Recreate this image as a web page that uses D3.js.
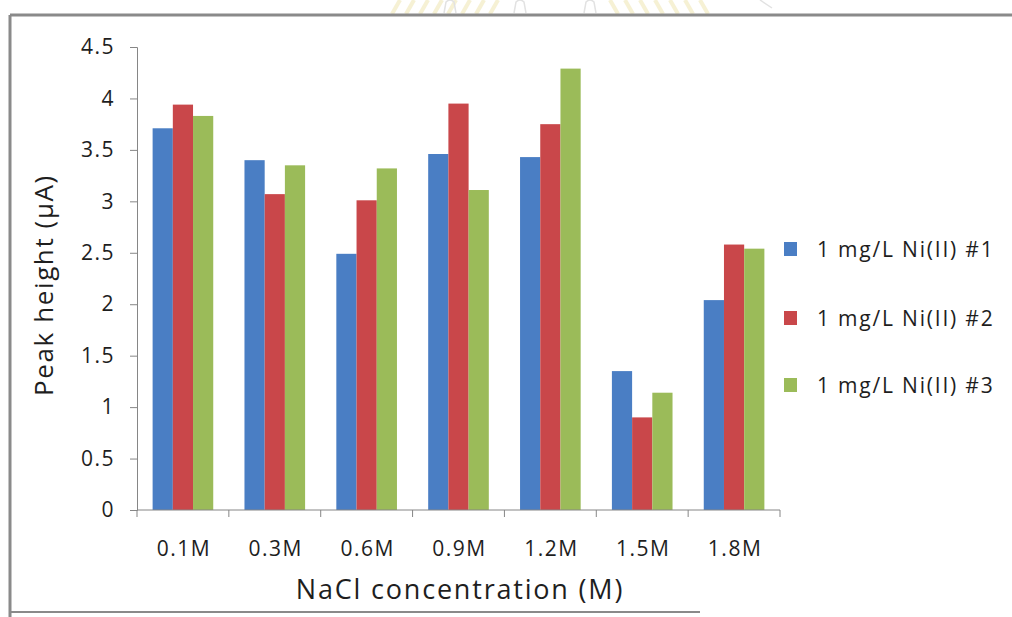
<!DOCTYPE html>
<html>
<head>
<meta charset="utf-8">
<script src="https://cdn.jsdelivr.net/npm/d3@7"></script>
<style>
  html, body { margin: 0; padding: 0; background: #fff; }
  svg { display: block; font-family: "Open Sans", "Noto Sans", sans-serif; }
</style>
</head>
<body>
<svg id="chart" width="1012" height="617"></svg>
<script>
// NaCl concentrations on the x axis
const categories = ["0.1M", "0.3M", "0.6M", "0.9M", "1.2M", "1.5M", "1.8M"];
// Peak heights (µA) for three replicate runs of 1 mg/L Ni(II)
const seriesNames = ["1 mg/L Ni(II) #1", "1 mg/L Ni(II) #2", "1 mg/L Ni(II) #3"];
const run1 = [3.71, 3.40, 2.49, 3.46, 3.43, 1.35, 2.04];
const run2 = [3.94, 3.07, 3.01, 3.95, 3.75, 0.90, 2.58];
const run3 = [3.83, 3.35, 3.32, 3.11, 4.29, 1.14, 2.54];
const yTicks = [0, 0.5, 1, 1.5, 2, 2.5, 3, 3.5, 4, 4.5];
const colors = ["#4a7ec4", "#c9474a", "#9bbb59"];

const seriesValues = [run1, run2, run3];
const svg = d3.select("#chart");
const textColor = "#1e1e1e";

// faint page emblem showing above the chart frame
const emblem = svg.append("g").attr("stroke", "#f1e8b8").attr("stroke-width", 4).attr("opacity", 0.6);
d3.range(8).forEach(i => {
  const x0 = 392 + i * 14;
  emblem.append("line").attr("x1", x0).attr("y1", 14).attr("x2", x0 + 8).attr("y2", 0);
});
d3.range(7).forEach(i => {
  const x0 = 610 + i * 15;
  emblem.append("line").attr("x1", x0).attr("y1", 0).attr("x2", x0 + 8).attr("y2", 14);
});
const emblemMarks = svg.append("g").attr("stroke", "#e2e2e2").attr("stroke-width", 1.5).attr("fill", "none");
[450, 520, 590].forEach(cx => {
  emblemMarks.append("path").attr("d", `M${cx - 6},13 L${cx - 4},2 Q${cx},-2 ${cx + 4},2 L${cx + 6},13`);
});
emblemMarks.append("line").attr("x1", 760).attr("y1", 0).attr("x2", 772).attr("y2", 8);

// frame around the chart area
const frame = svg.append("g").attr("stroke", "#8a8a8a").attr("fill", "none");
frame.append("line").attr("x1", 10).attr("x2", 1012).attr("y1", 15).attr("y2", 15).attr("stroke-width", 3);
frame.append("line").attr("x1", 10).attr("x2", 10).attr("y1", 15).attr("y2", 617).attr("stroke-width", 3);
frame.append("line").attr("x1", 10).attr("x2", 700).attr("y1", 612).attr("y2", 612).attr("stroke-width", 2);

const x = d3.scaleBand().domain(categories).range([137, 780]).paddingInner(0.34).paddingOuter(0.17);
const xInner = d3.scaleBand().domain(d3.range(3)).range([0, x.bandwidth()]);
const y = d3.scaleLinear().domain([0, 4.5]).range([510, 47]);

// bars
categories.forEach((cat, ci) => {
  seriesValues.forEach((vals, si) => {
    svg.append("rect")
      .attr("x", x(cat) + xInner(si))
      .attr("y", y(vals[ci]))
      .attr("width", xInner.bandwidth())
      .attr("height", y(0) - y(vals[ci]))
      .attr("fill", colors[si]);
  });
});

// y axis
const yAxis = svg.append("g").attr("transform", "translate(137,0)")
  .call(d3.axisLeft(y).tickValues(yTicks).tickFormat(d3.format("")).tickSizeOuter(0).tickSize(7).tickPadding(15));
yAxis.select(".domain").attr("stroke", "#868686");
yAxis.selectAll(".tick line").attr("stroke", "#868686");
yAxis.selectAll("text")
  .attr("font-size", 21).attr("letter-spacing", "1.5px")
  .attr("fill", textColor).attr("font-family", "Open Sans, sans-serif");

// x axis: ticks at category boundaries
const xAxisG = svg.append("g").attr("transform", "translate(0,510)");
xAxisG.append("line").attr("x1", 137).attr("x2", 780).attr("stroke", "#868686");
d3.range(categories.length + 1).forEach(i => {
  const xp = x.range()[0] + i * ((x.range()[1] - x.range()[0]) / categories.length);
  xAxisG.append("line").attr("x1", xp).attr("x2", xp).attr("y1", 0).attr("y2", 7).attr("stroke", "#868686");
});
categories.forEach(cat => {
  xAxisG.append("text")
    .attr("x", x(cat) + x.bandwidth() / 2 + 1)
    .attr("y", 46)
    .attr("text-anchor", "middle")
    .attr("font-size", 21)
    .attr("letter-spacing", "1.5px")
    .attr("fill", textColor)
    .text(cat);
});

// axis titles
svg.append("text")
  .attr("transform", "translate(53,285) rotate(-90)")
  .attr("text-anchor", "middle")
  .attr("font-size", 26)
  .attr("letter-spacing", "1.6px")
  .attr("fill", textColor)
  .text("Peak height (µA)");
svg.append("text")
  .attr("x", 460).attr("y", 599)
  .attr("text-anchor", "middle")
  .attr("font-size", 27)
  .attr("letter-spacing", "1.8px")
  .attr("fill", textColor)
  .text("NaCl concentration (M)");

// legend
const legendY = [250, 319, 386];
seriesNames.forEach((name, i) => {
  svg.append("rect").attr("x", 784).attr("y", legendY[i] - 8).attr("width", 13).attr("height", 14).attr("fill", colors[i]);
  svg.append("text").attr("x", 817).attr("y", legendY[i] + 7)
    .attr("font-size", 21).attr("letter-spacing", "1.8px")
    .attr("fill", textColor).text(name);
});
</script>
</body>
</html>
